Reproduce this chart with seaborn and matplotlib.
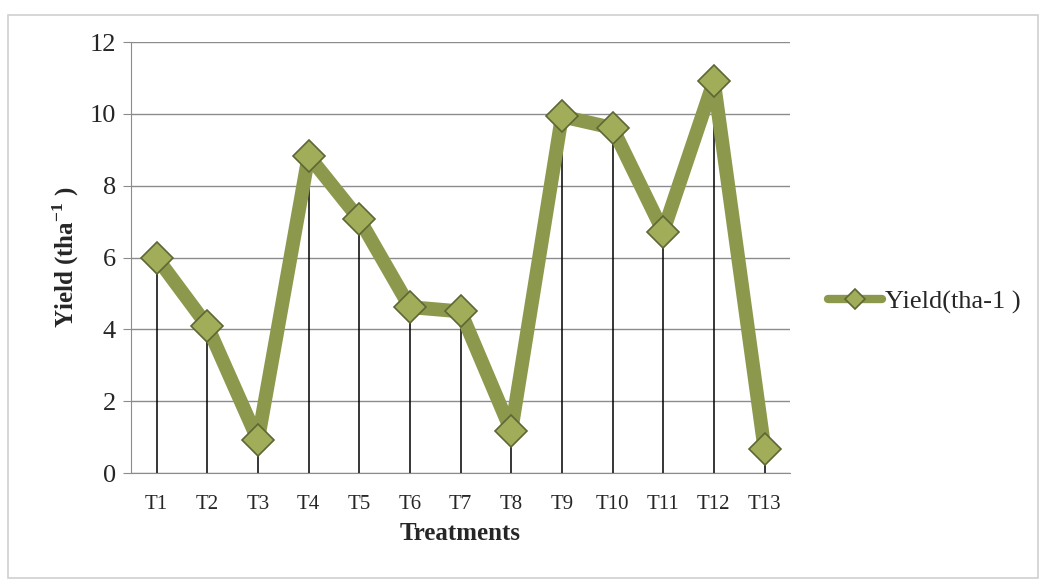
import pandas as pd
import matplotlib.pyplot as plt
import seaborn as sns

# dados
treatments = ['T1', 'T2', 'T3', 'T4', 'T5', 'T6', 'T7', 'T8', 'T9', 'T10', 'T11', 'T12', 'T13']
yield_tha = [6.0, 4.1, 0.92, 8.83, 7.07, 4.62, 4.5, 1.17, 9.93, 9.61, 6.72, 10.91, 0.67]
y_ticks = [0, 2, 4, 6, 8, 10, 12]

df = pd.DataFrame({'Treatments': treatments, 'Yield': yield_tha})

sns.set_style('white')
plt.rcParams['font.family'] = ['Liberation Serif', 'DejaVu Serif']
plt.rcParams['mathtext.fontset'] = 'custom'
plt.rcParams['mathtext.rm'] = 'Liberation Serif'
plt.rcParams['mathtext.bf'] = 'Liberation Serif:bold'

fig = plt.figure(figsize=(10.42, 5.84), dpi=100)
ax = fig.add_axes([0.126, 0.19, 0.632, 0.738])

# borda do grafico
fig.patches.append(plt.Rectangle((0.008, 0.01), 0.988, 0.965, transform=fig.transFigure,
                                 fill=False, edgecolor='#d0d0d0', linewidth=1.2))

ax.set_ylim(0, 12)
ax.set_xlim(-0.5, len(treatments) - 0.5)
ax.set_yticks(y_ticks)
ax.yaxis.grid(True, color='#8c8c8c', linewidth=1.0)
ax.set_axisbelow(True)

# linhas verticais ate o eixo
ax.vlines(range(len(treatments)), 0, df['Yield'], colors='black', linewidth=1.1, zorder=2)

sns.lineplot(data=df, x='Treatments', y='Yield', ax=ax, sort=False,
             color='#8c994c', linewidth=10, marker='D', markersize=16,
             markerfacecolor='#a2ad5a', markeredgecolor='#5e6634', markeredgewidth=1.2,
             label='Yield(tha-1 )', zorder=3, legend=False)

for s in ['top', 'right']:
    ax.spines[s].set_visible(False)
ax.spines['left'].set_color('#8c8c8c')
ax.spines['bottom'].set_color('#8c8c8c')
ax.tick_params(axis='y', left=True, length=6, color='#8c8c8c', labelsize=19, pad=5)
ax.tick_params(axis='x', bottom=False, labelsize=15, pad=12)

ax.set_xlabel('Treatments', fontsize=18, fontweight='bold', labelpad=6)
ax.set_ylabel(r'Yield (tha$^{\mathbf{-1}}$ )', fontsize=18, fontweight='bold', labelpad=6)

h, l = ax.get_legend_handles_labels()
leg = fig.legend(h, l, loc='center left', bbox_to_anchor=(0.772, 0.483), frameon=False,
                 fontsize=19, handlelength=2.05, handletextpad=0.1)
for lh in leg.legend_handles:
    lh.set_linewidth(6)
    lh.set_markersize(10)

fig.savefig('out.png', dpi=100)
